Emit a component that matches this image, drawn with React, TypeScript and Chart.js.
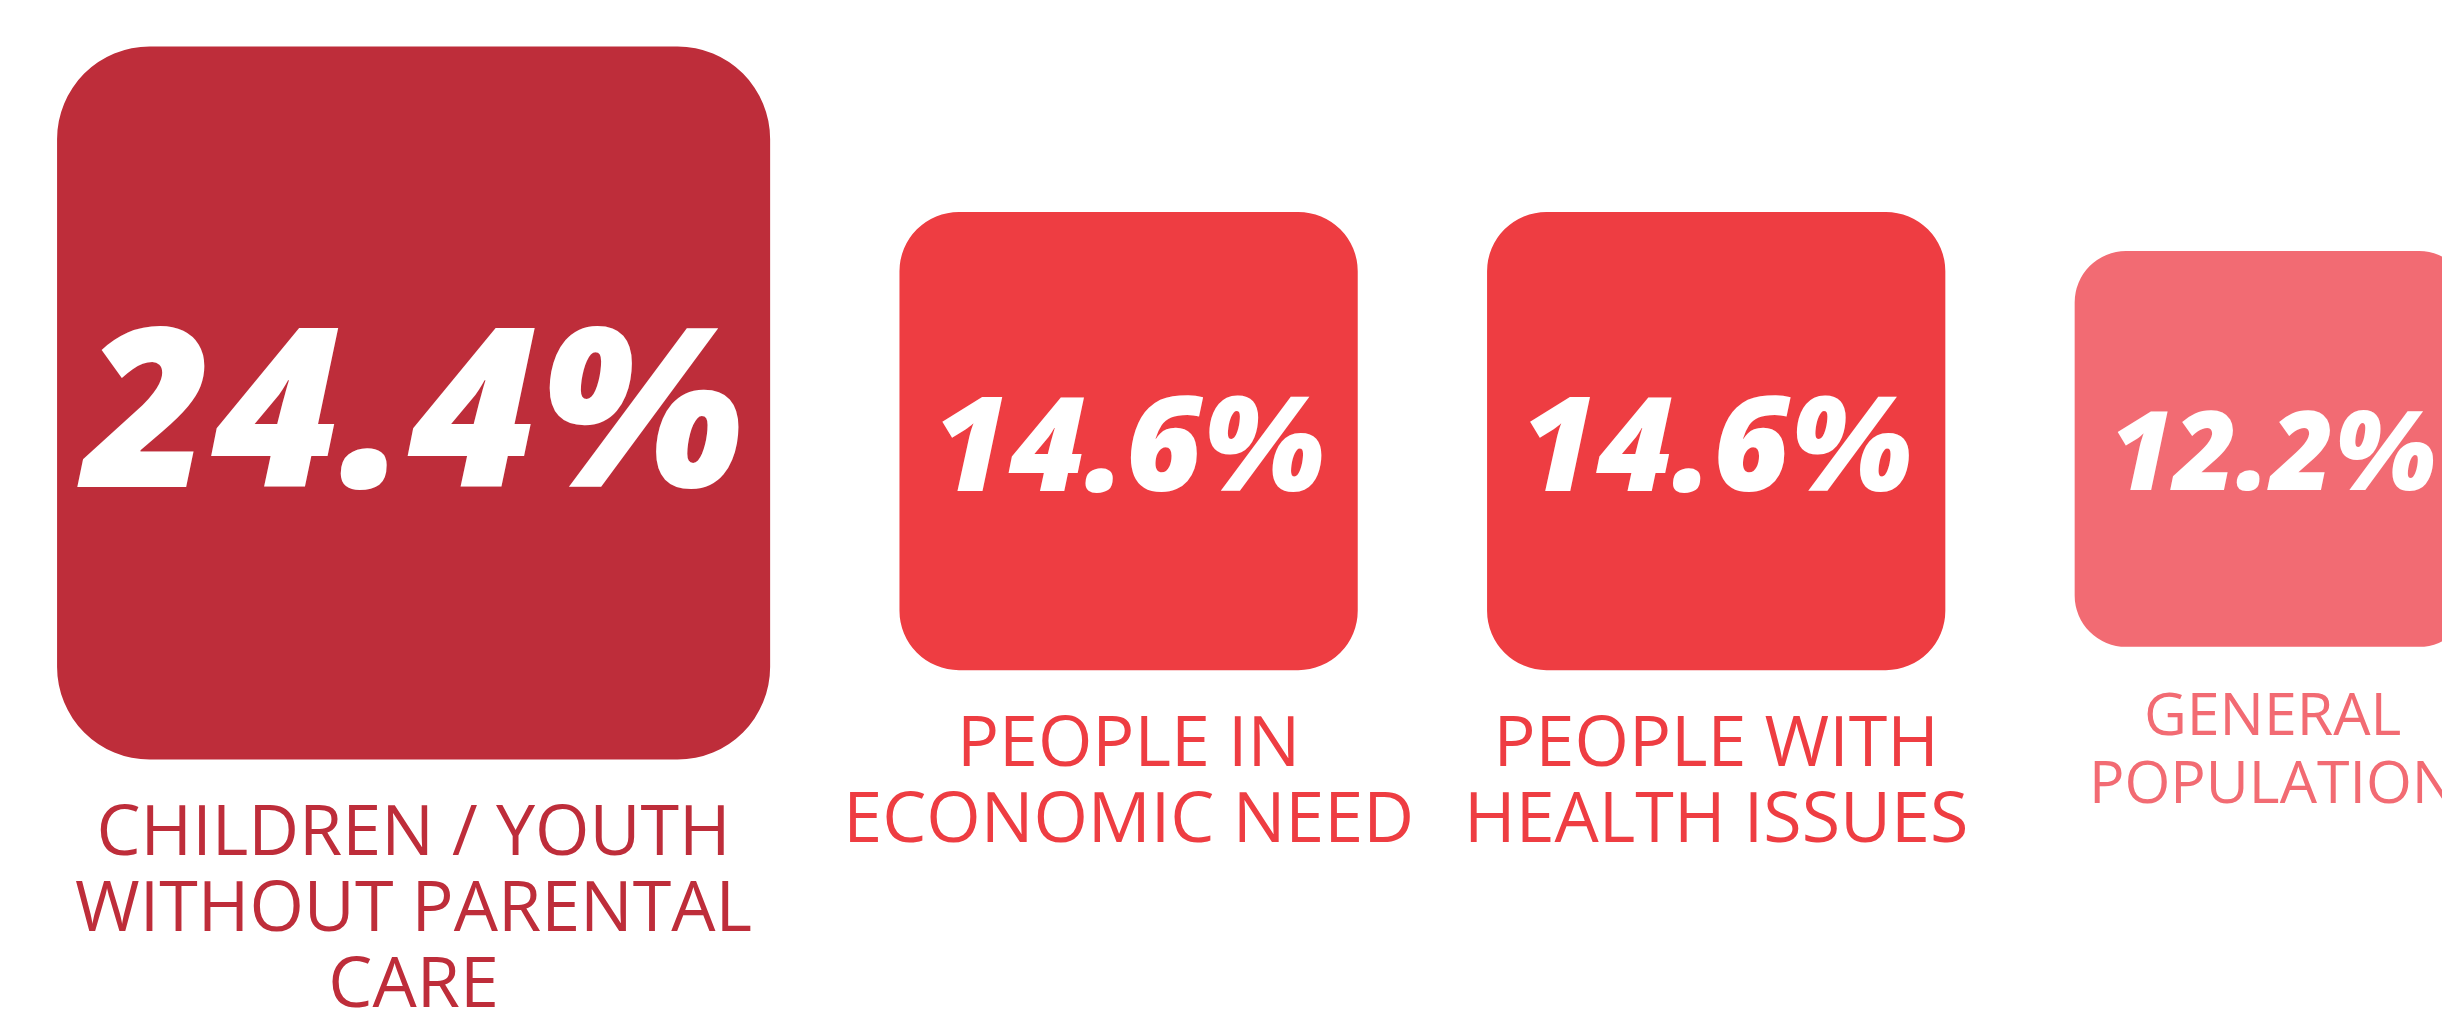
import React, { useEffect, useRef } from 'react';
import { Chart, registerables } from 'chart.js';

Chart.register(...registerables);

// ---------- data ----------
const categories: string[][] = [
  ['CHILDREN / YOUTH', 'WITHOUT PARENTAL', 'CARE'],
  ['PEOPLE IN', 'ECONOMIC NEED'],
  ['PEOPLE WITH', 'HEALTH ISSUES'],
  ['GENERAL', 'POPULATION'],
];
const values: number[] = [24.4, 14.6, 14.6, 12.2];
const valueLabels: string[] = ['24.4%', '14.6%', '14.6%', '12.2%'];

// ---------- styles ----------
const boxColors = ['#BE2D3A', '#EE3D42', '#EE3D42', '#F26B73'];
const labelColors = ['#BE2D3A', '#EE3D42', '#EE3D42', '#F26B73'];
const labelFontPx = [70, 70, 70, 59];
const labelLinePx = [76, 76, 76, 68];

const CANVAS_W = 2442;
const CANVAS_H = 1006;
const PX_PER_UNIT = 26; // same pixel size of one unit on both axes
const SIZE_OFFSET = 3; // square side (units) = value + offset
const GAP_UNITS = 5;
const LEFT_UNITS = 1.9;
const LABEL_GAP_PX = 46;
const GROUP_CENTER_PX = 519;
const CAP = 0.714;
const VALUE_WIDTH_RATIO = 2.87;

function computeLayout() {
  let cursor = LEFT_UNITS;
  return values.map((v, i) => {
    const side = v + SIZE_OFFSET;
    const cx = cursor + side / 2;
    cursor += side + GAP_UNITS;
    const f = labelFontPx[i];
    const labelBlock = CAP * f + (categories[i].length - 1) * labelLinePx[i];
    const groupU = side + (LABEL_GAP_PX + labelBlock) / PX_PER_UNIT;
    const top = GROUP_CENTER_PX / PX_PER_UNIT - groupU / 2;
    return { cx, top, bottom: top + side, side };
  });
}

const textPlugin = {
  id: 'boxText',
  afterDatasetsDraw(chart: any) {
    const ctx: any = chart.ctx;
    chart.data.datasets.forEach((_ds: any, i: number) => {
      const el = chart.getDatasetMeta(i).data[0];
      if (!el) return;
      const { x, y, base } = el.getProps(['x', 'y', 'base'], true);
      const top = Math.min(y, base);
      const bottom = Math.max(y, base);
      const cy = (top + bottom) / 2;
      const fs = 9.2 * (values[i] - 0.3);
      ctx.save();
      ctx.textAlign = 'center';
      ctx.textBaseline = 'alphabetic';
      ctx.fillStyle = '#FFFFFF';
      ctx.font = `italic 800 ${fs}px "Open Sans"`;
      ctx.letterSpacing = '0px';
      const txt = valueLabels[i];
      const w0 = ctx.measureText(txt).width;
      const ls = Math.max(0, (VALUE_WIDTH_RATIO * fs - w0) / txt.length);
      ctx.letterSpacing = `${ls}px`;
      ctx.fillText(txt, x + ls / 2, cy + (CAP * fs) / 2 + 0.02 * fs);
      ctx.letterSpacing = '0px';
      const lf = labelFontPx[i];
      ctx.font = `400 ${lf}px "Open Sans"`;
      ctx.fillStyle = labelColors[i];
      categories[i].forEach((line, j) => {
        ctx.fillText(line, x, bottom + LABEL_GAP_PX + CAP * lf + j * labelLinePx[i]);
      });
      ctx.restore();
    });
  },
};

export default function App() {
  const ref = useRef<HTMLCanvasElement | null>(null);
  useEffect(() => {
    if (!ref.current) return;
    const lay = computeLayout();
    const datasets = lay.map((b, i) => ({
      label: categories[i].join(' '),
      data: [{ x: b.cx, y: [b.top, b.bottom] }],
      backgroundColor: boxColors[i],
      borderWidth: 0,
      borderSkipped: false,
      borderRadius: b.side * PX_PER_UNIT * 0.13,
      barThickness: b.side * PX_PER_UNIT,
      skipNull: true,
    }));
    const chart = new Chart(ref.current, {
      type: 'bar',
      data: { datasets: datasets as any },
      options: {
        animation: false,
        responsive: true,
        maintainAspectRatio: false,
        layout: { padding: 0 },
        plugins: {
          legend: { display: false },
          tooltip: { enabled: false },
          title: { display: false },
        },
        scales: {
          x: { type: 'linear', display: false, offset: false, min: 0, max: CANVAS_W / PX_PER_UNIT },
          y: { type: 'linear', display: false, reverse: true, min: 0, max: CANVAS_H / PX_PER_UNIT },
        },
      },
      plugins: [textPlugin],
    });
    let alive = true;
    if ((document as any).fonts) {
      Promise.all([
        (document as any).fonts.load('italic 800 100px "Open Sans"'),
        (document as any).fonts.load('400 60px "Open Sans"'),
      ]).then(() => { if (alive) chart.draw(); }).catch(() => {});
    }
    return () => { alive = false; chart.destroy(); };
  }, []);
  return (
    <div style={{ position: 'relative', width: CANVAS_W, height: CANVAS_H, marginRight: -8 }}>
      <canvas ref={ref} />
    </div>
  );
}
